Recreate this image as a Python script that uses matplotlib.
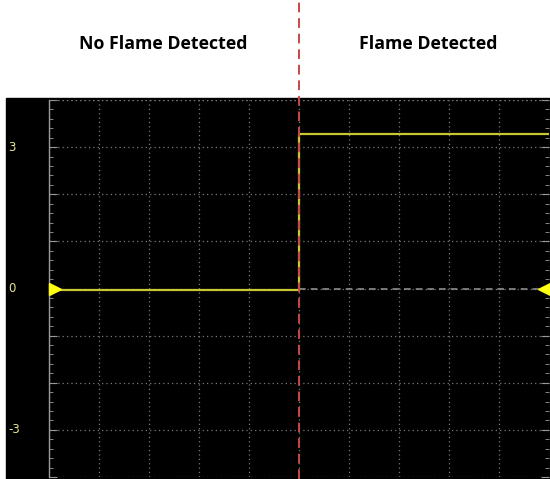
import matplotlib.pyplot as plt
from matplotlib.lines import Line2D
from matplotlib.patches import Rectangle
from matplotlib.ticker import MultipleLocator

# time in screen divisions, voltage in V
t_off = [0, 5]
v_off = [-0.04, -0.04]
t_on = [5, 5, 10]
v_on = [-0.04, 3.28, 3.28]
step_t = 5
y_ticks = [-3, 0, 3]
y_ticklabels = ["-3", "0", "3"]
titles = ["No Flame Detected", "Flame Detected"]

W, H = 550, 479
fig = plt.figure(figsize=(W / 100, H / 100), dpi=100)

# black screen background (incl. the strip left of the grid)
bg = Rectangle((6 / W, 0), 1 - 6 / W, 1 - 98 / H,
               transform=fig.transFigure, color="black", zorder=-5)
fig.add_artist(bg)

ax = fig.add_axes([49 / W, 2 / H, 500 / W, 377 / H])
ax.set_facecolor("black")
ax.set_xlim(0, 10)
ax.set_ylim(-4, 4)

ax.xaxis.set_major_locator(MultipleLocator(1))
ax.yaxis.set_major_locator(MultipleLocator(1))
ax.yaxis.set_minor_locator(MultipleLocator(0.2))
ax.grid(True, which="major", color="#7a7a7a", linestyle=(0, (1, 2.5)), linewidth=0.9)
ax.tick_params(axis="x", which="both", length=0, labelbottom=False)
ax.tick_params(axis="y", which="both", direction="in", left=True, right=True,
               color="#9a9a9a", labelleft=False)
ax.tick_params(axis="y", which="major", length=6)
ax.tick_params(axis="y", which="minor", length=3)
for side in ["top", "bottom", "right"]:
    ax.spines[side].set_visible(False)
ax.spines["left"].set_color("#9a9a9a")
ax.spines["left"].set_linewidth(1.0)
ax.axhline(4, color="#7a7a7a", linestyle=(0, (1, 2.5)), linewidth=0.9)

# zero reference line on the right half
ax.plot([step_t, 10], [0, 0], color="#8c8c8c", linestyle=(0, (4, 3)), linewidth=1.2)

ax.plot(t_off, v_off, color="#c8c832", linewidth=1.6)
ax.plot(t_on, v_on, color="#c8c832", linewidth=1.6)

# channel markers
ax.plot([0.12], [0], marker=">", markersize=9, color="#ffff10", clip_on=False, zorder=5)
ax.plot([9.9], [0], marker="<", markersize=9, color="#ffff10", clip_on=False, zorder=5)

# y labels in the left strip
for y, lab in zip(y_ticks, y_ticklabels):
    ax.text(-0.82, y, lab, color="#e8e890", fontsize=8.5, ha="left", va="center",
            family="DejaVu Sans")

# dashed red divider across the whole figure
fig.add_artist(Line2D([299 / W, 299 / W], [0, 1], transform=fig.transFigure,
                      color="#c84848", linestyle=(0, (5, 3)), linewidth=1.4, zorder=10))

fig.text(163 / W, 1 - 44 / H, titles[0], ha="center", va="center",
         fontsize=12.8, fontweight="bold", family="Open Sans")
fig.text(428 / W, 1 - 44 / H, titles[1], ha="center", va="center",
         fontsize=12.8, fontweight="bold", family="Open Sans")

fig.savefig("out.png", dpi=100, facecolor="white")
